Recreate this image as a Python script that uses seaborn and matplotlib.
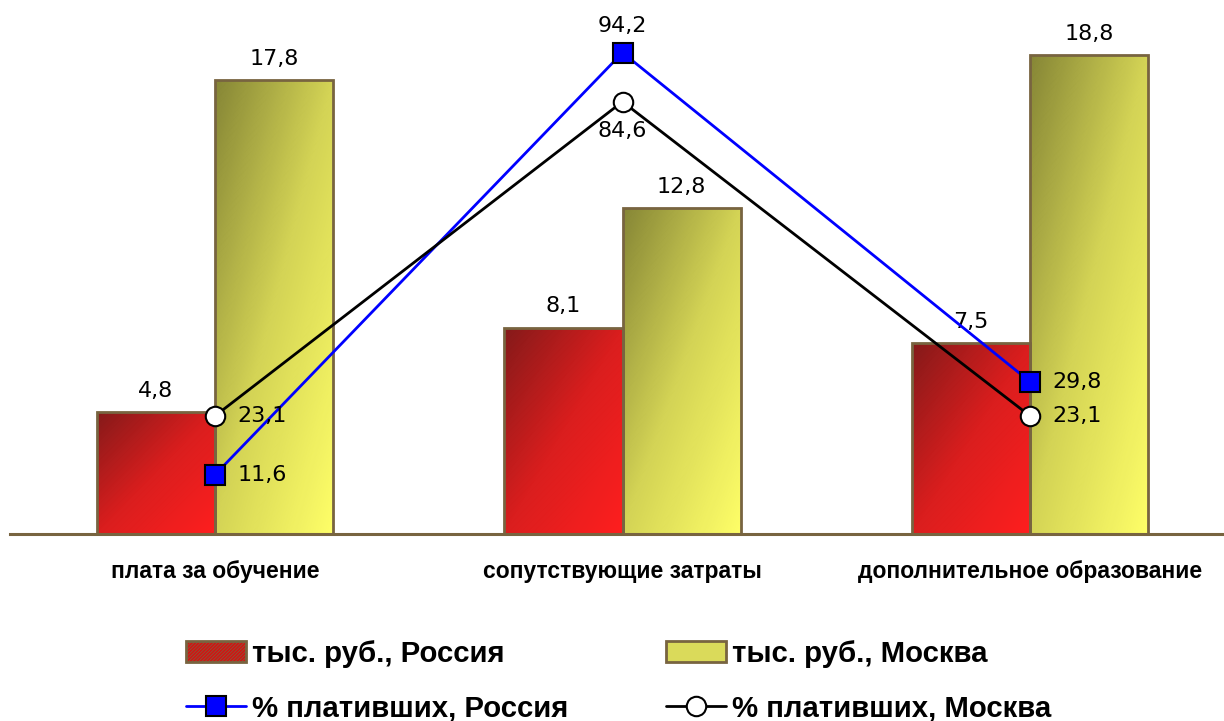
import numpy as np
import pandas as pd
import matplotlib
matplotlib.use('Agg')
import matplotlib.pyplot as plt
import seaborn as sns
from matplotlib.patches import Patch, Rectangle
from matplotlib.lines import Line2D
from matplotlib.colors import LinearSegmentedColormap

# ---- data ----
categories = ['плата за обучение', 'сопутствующие затраты', 'дополнительное образование']
rub_russia = [4.8, 8.1, 7.5]
rub_moscow = [17.8, 12.8, 18.8]
pct_russia = [11.6, 94.2, 29.8]
pct_moscow = [23.1, 84.6, 23.1]
bar_series = ['тыс. руб., Россия', 'тыс. руб., Москва']
line_series = ['% плативших, Россия', '% плативших, Москва']

EDGE = '#786440'
RED_DARK, RED_LIGHT = '#7c0a0a', '#ff1010'
YEL_DARK, YEL_LIGHT = '#7e7e28', '#ffff5e'

sns.set_theme(style='white')
plt.rcParams['font.family'] = ['DejaVu Sans']
plt.rcParams['text.color'] = 'black'
plt.rcParams['xtick.color'] = 'black'
plt.rcParams['hatch.linewidth'] = 0.5

fig = plt.figure(figsize=(12.24, 7.21), dpi=100)
ax = fig.add_axes([10/1224, 187/721, 1214/1224, 534/721])

df = pd.DataFrame({
    'cat': categories * 2,
    'val': rub_russia + rub_moscow,
    'series': [bar_series[0]] * 3 + [bar_series[1]] * 3,
})
sns.barplot(data=df, x='cat', y='val', hue='series', ax=ax, width=0.58,
            palette=[RED_LIGHT, YEL_LIGHT], edgecolor=EDGE, linewidth=2,
            legend=False, zorder=3, saturation=1)

YMAX = 20.95
ax.set_xlim(-0.503, 2.476)
ax.set_ylim(0, YMAX)

cmap_r = LinearSegmentedColormap.from_list('r', [RED_DARK, '#d80e0e', RED_LIGHT])
cmap_y = LinearSegmentedColormap.from_list('y', [YEL_DARK, '#d2d24a', YEL_LIGHT])
N = 200
gx, gy = np.meshgrid(np.linspace(0, 1, N), np.linspace(0, 1, N))
grad = 0.5 * gx + 0.5 * gy

bars = [p for p in ax.patches if isinstance(p, Rectangle) and p.get_height() > 0]
bars = sorted(bars, key=lambda p: p.get_x())
for p in bars:
    fc = p.get_facecolor()
    is_red = fc[1] < 0.5
    x0, y0, w, h = p.get_x(), p.get_y(), p.get_width(), p.get_height()
    im = ax.imshow(grad, extent=(x0, x0 + w, y0, y0 + h), origin='upper',
                   aspect='auto', cmap=cmap_r if is_red else cmap_y,
                   zorder=2, interpolation='bilinear')
    im.set_clip_path(p)
    ax.add_patch(Rectangle((x0, y0), w, h, facecolor='none',
                           edgecolor=(1, 1, 1, 0.08), hatch='/' * 28,
                           lw=0, zorder=2.5))
    p.set_facecolor('none')
    lbl = f'{h:.1f}'.replace('.', ',')
    ax.annotate(lbl, (x0 + w / 2, h), xytext=(0, 8), textcoords='offset points',
                ha='center', va='bottom', fontsize=16, color='black')

ax.set_xlim(-0.503, 2.476)
ax.set_ylim(0, YMAX)

for s in ['top', 'left', 'right']:
    ax.spines[s].set_visible(False)
ax.spines['bottom'].set_color(EDGE)
ax.spines['bottom'].set_linewidth(2.2)
ax.set_yticks([])
ax.set_xlabel('')
ax.set_ylabel('')
ax.tick_params(axis='x', length=0, pad=19)
ax.set_xticks(range(3))
ax.set_xticklabels(categories, fontsize=16.5, fontweight='bold',
                   family='Liberation Sans', color='black')

# ---- lines on secondary axis ----
ax2 = ax.twinx()
ax2.set_ylim(0, 104.5)
xs = [0, 1, 2]
sns.lineplot(x=xs, y=pct_russia, ax=ax2, color='#0000ff', lw=2, marker='s',
             markersize=14, markerfacecolor='#0000ff', markeredgecolor='black',
             markeredgewidth=1.5, zorder=5)
sns.lineplot(x=xs, y=pct_moscow, ax=ax2, color='black', lw=2, marker='o',
             markersize=14, markerfacecolor='white', markeredgecolor='black',
             markeredgewidth=1.5, zorder=5)
ax2.set_xlim(-0.503, 2.476)
for s in ['top', 'left', 'right', 'bottom']:
    ax2.spines[s].set_visible(False)
ax2.set_yticks([])
ax2.set_ylabel('')

def fmt(v):
    return f'{v:.1f}'.replace('.', ',')

offs_r = [((16, 0), 'left', 'center'), ((0, 12), 'center', 'bottom'), ((16, 0), 'left', 'center')]
offs_m = [((16, 0), 'left', 'center'), ((0, -14), 'center', 'top'), ((16, 0), 'left', 'center')]
for x, v, (o, ha, va) in zip(xs, pct_russia, offs_r):
    ax2.annotate(fmt(v), (x, v), xytext=o, textcoords='offset points',
                 ha=ha, va=va, fontsize=16, color='black', zorder=6)
for x, v, (o, ha, va) in zip(xs, pct_moscow, offs_m):
    ax2.annotate(fmt(v), (x, v), xytext=o, textcoords='offset points',
                 ha=ha, va=va, fontsize=16, color='black', zorder=6)

# ---- legend ----
handles = [
    Patch(facecolor='#d41212', edgecolor=EDGE, linewidth=2, hatch='/' * 10),
    Line2D([], [], color='#0000ff', lw=2, marker='s', markersize=14,
           markerfacecolor='#0000ff', markeredgecolor='black', markeredgewidth=1.5),
    Patch(facecolor='#dada5a', edgecolor=EDGE, linewidth=2),
    Line2D([], [], color='black', lw=2, marker='o', markersize=14,
           markerfacecolor='white', markeredgecolor='black', markeredgewidth=1.5),
]
labels = [bar_series[0], line_series[0], bar_series[1], line_series[1]]
leg = fig.legend(handles, labels, ncol=2, loc='upper left',
                 bbox_to_anchor=(186/1224, 1 - 640/721), frameon=False,
                 prop=dict(family='Liberation Sans', weight='bold', size=21.2),
                 handlelength=2.05, handleheight=0.7, handletextpad=0.2,
                 columnspacing=3.3, labelspacing=0.9, borderpad=0, borderaxespad=0)
for t in leg.get_texts():
    t.set_color('black')

fig.savefig('out.png', dpi=100)
